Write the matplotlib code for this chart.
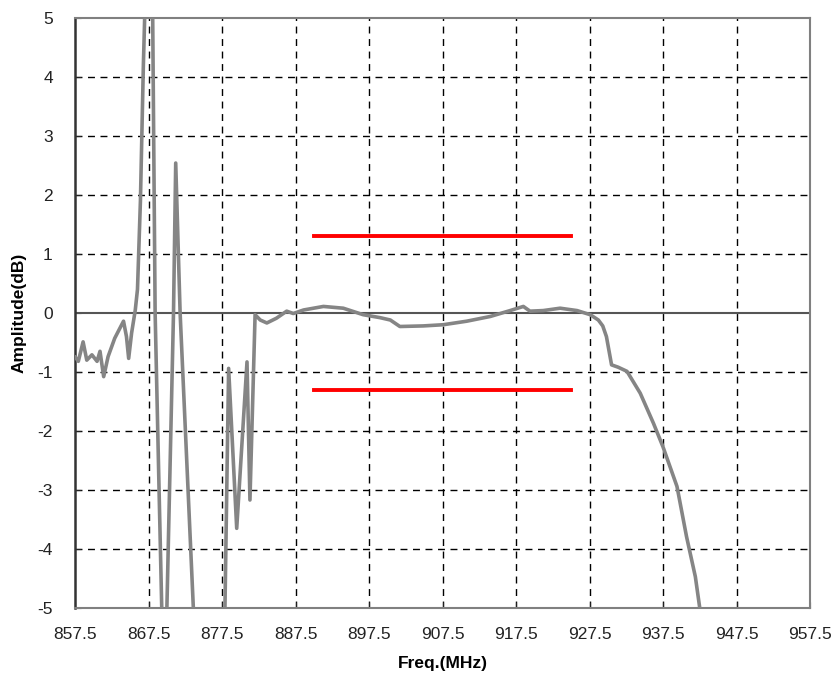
import numpy as np
import matplotlib
matplotlib.use("Agg")
import matplotlib.pyplot as plt

plt.rcParams['font.family'] = ['Liberation Sans', 'DejaVu Sans']
plt.rcParams['axes.unicode_minus'] = False

freq = [857.5, 857.95, 858.6, 859.1, 859.8, 860.5, 860.9, 861.4, 862.0, 862.9,
        863.6, 864.1, 864.5, 864.8, 865.2, 865.7, 866.0, 866.4, 866.8, 867.2,
        867.65, 868.07, 868.4, 868.9, 869.3, 869.6, 870.0, 870.9, 871.2, 871.8,
        872.7, 873.6, 874.5, 876.0, 877.6, 877.9, 878.4, 879.5, 880.9, 881.3,
        882.0, 882.7, 883.6, 884.9, 886.3, 887.2, 888.6, 891.3, 894.0, 896.7,
        899.0, 900.4, 901.7, 904.9, 907.6, 910.8, 914.0, 916.7, 918.5, 919.4,
        921.2, 923.5, 925.8, 927.6, 928.7, 929.3, 929.8, 930.5, 931.4, 932.6,
        934.4, 936.2, 937.5, 939.4, 940.7, 941.9, 942.5, 943.0]
amp = [-0.74, -0.82, -0.49, -0.80, -0.71, -0.82, -0.65, -1.08, -0.74, -0.43,
       -0.26, -0.14, -0.40, -0.77, -0.34, 0.05, 0.40, 1.90, 4.20, 6.00,
       7.00, 5.00, 0.00, -2.80, -5.00, -6.00, -5.00, 0.00, 2.54, 0.00,
       -2.50, -5.00, -6.50, -7.00, -6.50, -5.00, -0.94, -3.65, -0.83, -3.17,
       -0.03, -0.12, -0.17, -0.09, 0.03, -0.01, 0.05, 0.11, 0.08, -0.03,
       -0.08, -0.12, -0.23, -0.22, -0.20, -0.14, -0.06, 0.04, 0.11, 0.03,
       0.04, 0.08, 0.04, -0.03, -0.12, -0.22, -0.40, -0.88, -0.92, -0.99,
       -1.36, -1.87, -2.27, -2.94, -3.79, -4.47, -5.00, -5.80]

# spec limits
spec_f = [890.0, 925.0]
spec_hi = 1.3
spec_lo = -1.3

xticks = np.arange(857.5, 957.6, 10)
yticks = np.arange(-5, 6, 1)

fig = plt.figure(figsize=(8.4, 6.87), dpi=100)
ax = fig.add_axes([0.0893, 0.115, 0.875, 0.859])

for xt in xticks[1:-1]:
    ax.axvline(xt, color='black', lw=1, ls=(0, (5, 4)), zorder=1)
for yt in yticks[1:-1]:
    if yt != 0:
        ax.axhline(yt, color='black', lw=1, ls=(0, (5, 4)), zorder=1)
ax.axhline(0, color='#555555', lw=1.5, zorder=2)

ax.plot(freq, amp, color='#858585', lw=2.6, zorder=3,
        solid_joinstyle='round', solid_capstyle='round')
ax.plot(spec_f, [spec_hi, spec_hi], color='#ff0000', lw=2.8, zorder=4)
ax.plot(spec_f, [spec_lo, spec_lo], color='#ff0000', lw=2.8, zorder=4)

ax.set_xlim(857.5, 957.5)
ax.set_ylim(-5, 5)
ax.set_xticks(xticks)
ax.set_xticklabels(['%.1f' % v for v in xticks])
ax.set_yticks(yticks)
ax.tick_params(direction='in', length=4, labelsize=12.5, colors='#222222')
ax.tick_params(axis='x', pad=14)
ax.tick_params(axis='y', pad=16)

for side in ['top', 'right', 'bottom']:
    ax.spines[side].set_color('#808080')
    ax.spines[side].set_linewidth(1.5)
ax.spines['left'].set_color('#333333')
ax.spines['left'].set_linewidth(1.8)

ax.set_xlabel('Freq.(MHz)', fontsize=12.5, fontweight='bold', labelpad=10)
ax.set_ylabel('Amplitude(dB)', fontsize=12.5, fontweight='bold', labelpad=8)

fig.savefig('out.png', dpi=100)
